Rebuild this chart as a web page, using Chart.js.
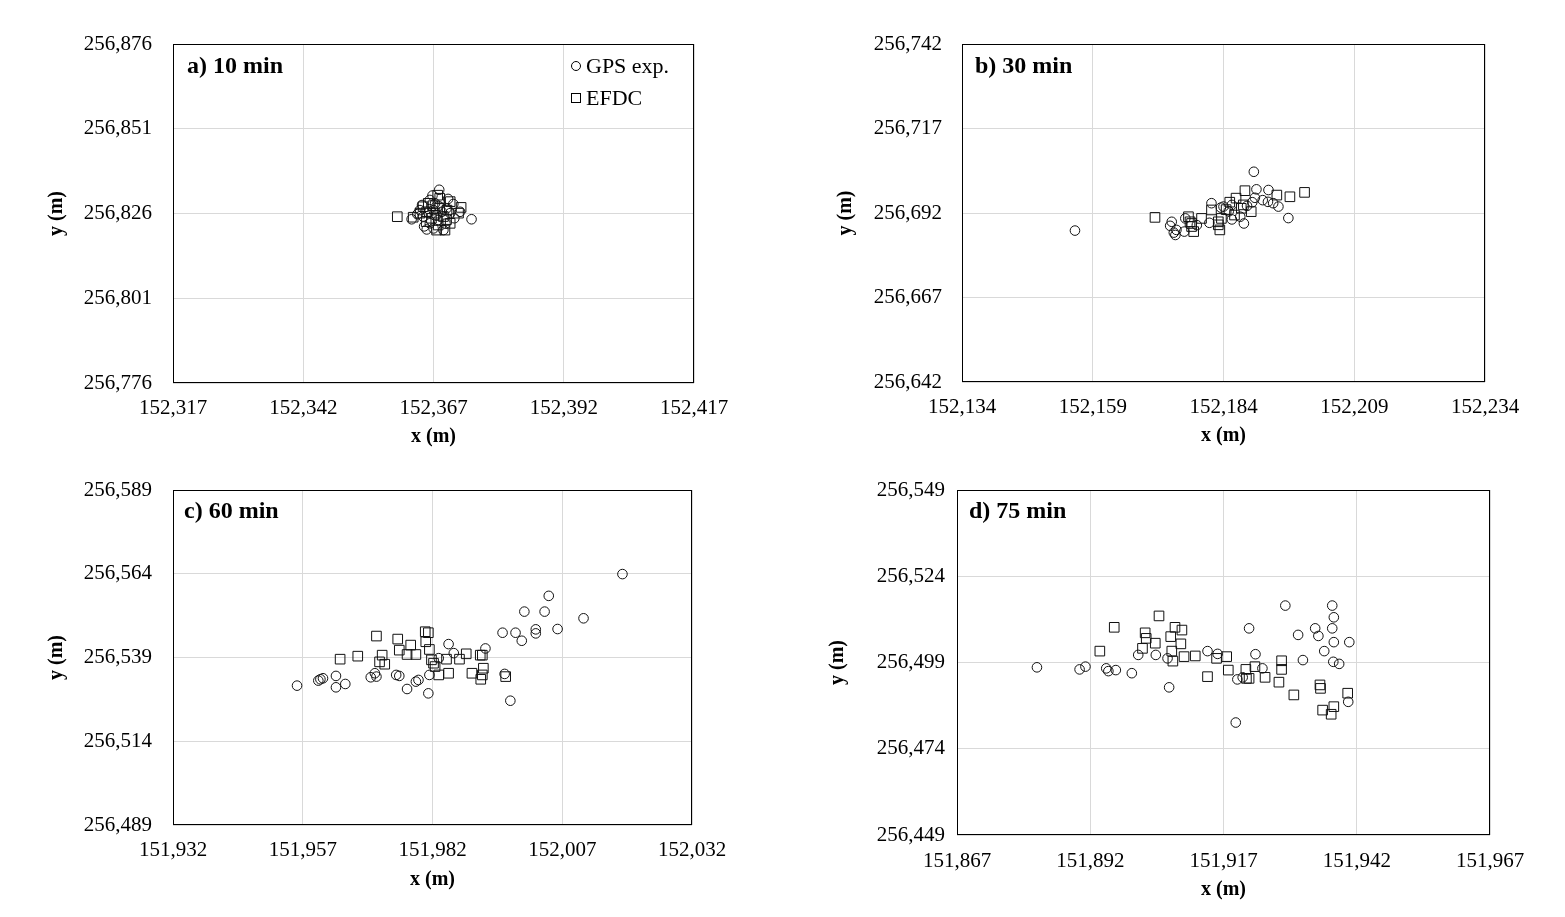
<!DOCTYPE html>
<html>
<head>
<meta charset="utf-8">
<script src="https://cdn.jsdelivr.net/npm/chart.js@4/dist/chart.umd.min.js"></script>
<style>
  html, body { margin: 0; padding: 0; background: #fff; }
  body { width: 1565px; height: 917px; position: relative; overflow: hidden; }
  canvas { position: absolute; display: block; }
</style>
</head>
<body>
<canvas id="ca"></canvas>
<canvas id="cb"></canvas>
<canvas id="cc"></canvas>
<canvas id="cd"></canvas>
<script>
// ---------------- DATA ----------------
const seriesNames = ['GPS exp.', 'EFDC'];

// a) 10 min
const aTicksX = [152317, 152342, 152367, 152392, 152417];
const aTicksY = [256776, 256801, 256826, 256851, 256876];
const aGpsX = [152362.8, 152368.1, 152374.3, 152365.7, 152368.9, 152367.0, 152372.1, 152364.4, 152366.3, 152367.3, 152369.5, 152370.2, 152365.0, 152366.3, 152367.9, 152367.0, 152368.6, 152363.9, 152366.8, 152369.8, 152371.0, 152365.2, 152368.0, 152366.0, 152369.3, 152367.6, 152364.8, 152370.8];
const aGpsY = [256824.3, 256833.0, 256824.3, 256821.3, 256821.1, 256821.6, 256826.5, 256827.0, 256830.0, 256829.0, 256827.5, 256826.1, 256825.1, 256823.1, 256824.1, 256827.0, 256826.5, 256825.8, 256831.3, 256830.3, 256824.6, 256822.2, 256828.2, 256826.2, 256823.0, 256825.5, 256828.5, 256828.8];
const aEfdcX = [152360.05, 152363.1, 152372.3, 152370.2, 152368.2, 152367.6, 152369.2, 152371.8, 152369.5, 152365.0, 152366.0, 152364.4, 152365.7, 152367.3, 152368.2, 152366.6, 152368.9, 152370.2, 152367.9, 152366.9, 152369.6, 152365.6, 152367.8];
const aEfdcY = [256825.06, 256824.9, 256827.8, 256829.5, 256830.5, 256821.1, 256821.1, 256826.1, 256824.2, 256828.0, 256829.0, 256826.1, 256826.5, 256826.1, 256827.5, 256824.6, 256825.1, 256823.1, 256822.6, 256828.3, 256827.0, 256823.6, 256831.4];

// b) 30 min
const bTicksX = [152134, 152159, 152184, 152209, 152234];
const bTicksY = [256642, 256667, 256692, 256717, 256742];
const bGpsX = [152155.6, 152174.1, 152173.8, 152175.0, 152174.8, 152174.5, 152176.5, 152178.9, 152176.7, 152181.7, 152181.3, 152185.6, 152187.9, 152187.2, 152189.8, 152190.3, 152192.6, 152191.5, 152192.5, 152193.5, 152194.5, 152196.4, 152184.0, 152185.0, 152183.5, 152185.6, 152188.5, 152189.5, 152190.0];
const bGpsY = [256686.8, 256689.4, 256688.2, 256687.0, 256685.5, 256686.2, 256686.5, 256688.4, 256690.4, 256694.9, 256689.1, 256690.1, 256688.9, 256690.9, 256704.2, 256699.0, 256698.8, 256695.8, 256695.3, 256694.9, 256693.9, 256690.5, 256693.9, 256692.5, 256693.6, 256694.4, 256694.1, 256695.2, 256696.5];
const bEfdcX = [152170.9, 152177.3, 152177.6, 152177.9, 152178.3, 152177.9, 152179.8, 152183.0, 152183.3, 152183.0, 152186.4, 152188.1, 152187.8, 152189.3, 152194.2, 152196.7, 152199.5, 152187.4, 152186.1, 152181.7, 152184.5, 152185.2, 152183.6];
const bEfdcY = [256690.7, 256690.9, 256689.4, 256688.0, 256686.5, 256688.9, 256690.4, 256689.4, 256687.0, 256688.5, 256696.4, 256698.6, 256694.4, 256692.4, 256697.3, 256696.8, 256698.1, 256693.4, 256691.4, 256692.9, 256693.0, 256695.2, 256690.4];

// c) 60 min
const cTicksX = [151932, 151957, 151982, 152007, 152032];
const cTicksY = [256489, 256514, 256539, 256564, 256589];
const cGpsX = [152018.6, 152004.4, 151999.7, 152003.6, 152011.1, 152006.1, 152001.9, 152001.9, 151995.5, 151998.0, 151999.2, 151992.2, 151985.1, 151986.1, 151995.9, 151997.0, 151981.2, 151981.4, 151977.1, 151978.8, 151979.3, 151975.0, 151975.6, 151970.1, 151970.9, 151971.2, 151963.4, 151963.4, 151965.2, 151960.0, 151960.4, 151960.9, 151955.9, 151983.2];
const cGpsY = [256563.9, 256557.4, 256552.7, 256552.7, 256550.7, 256547.5, 256547.4, 256546.2, 256546.4, 256546.4, 256544.0, 256541.7, 256543.0, 256540.3, 256534.1, 256526.1, 256528.3, 256533.8, 256529.6, 256531.8, 256532.3, 256533.8, 256533.5, 256533.1, 256534.3, 256533.3, 256533.5, 256530.1, 256531.1, 256532.1, 256532.5, 256532.8, 256530.6, 256538.8];
const cEfdcX = [151964.2, 151967.6, 151971.2, 151975.3, 151975.6, 151977.8, 151977.1, 151978.8, 151972.3, 151971.8, 151972.8, 151980.6, 151981.2, 151980.7, 151981.4, 151981.8, 151982.2, 151982.5, 151983.2, 151985.1, 151984.7, 151987.2, 151988.5, 151989.6, 151991.3, 151991.8, 151991.6, 151991.2, 151991.6, 151996.1];
const cEfdcY = [256538.5, 256539.4, 256545.4, 256544.5, 256541.2, 256542.7, 256539.9, 256539.9, 256539.7, 256537.7, 256537.0, 256546.7, 256546.4, 256543.7, 256541.4, 256538.3, 256537.3, 256536.3, 256533.8, 256534.3, 256538.5, 256538.5, 256540.1, 256534.3, 256532.5, 256535.8, 256533.8, 256539.7, 256539.7, 256533.3];

// d) 75 min
const dTicksX = [151867, 151892, 151917, 151942, 151967];
const dTicksY = [256449, 256474, 256499, 256524, 256549];
const dGpsX = [151882.0, 151890.0, 151891.1, 151895.0, 151895.4, 151896.8, 151899.8, 151901.0, 151904.3, 151906.5, 151906.8, 151914.0, 151915.9, 151919.3, 151919.6, 151920.6, 151921.8, 151923.0, 151924.3, 151928.6, 151931.0, 151931.9, 151934.2, 151934.8, 151935.9, 151937.4, 151937.7, 151937.4, 151937.7, 151937.6, 151938.7, 151940.6, 151940.4];
const dGpsY = [256497.6, 256497.0, 256497.8, 256497.3, 256496.5, 256496.8, 256495.9, 256501.2, 256501.2, 256500.2, 256491.8, 256502.3, 256501.5, 256481.6, 256494.1, 256494.7, 256508.9, 256501.4, 256497.3, 256515.5, 256507.0, 256499.7, 256508.9, 256506.7, 256502.3, 256515.5, 256512.1, 256508.9, 256504.9, 256499.2, 256498.6, 256504.9, 256487.6];
const dEfdcX = [151893.8, 151896.5, 151904.9, 151902.3, 151902.5, 151901.8, 151904.2, 151907.9, 151909.2, 151907.1, 151909.0, 151907.3, 151907.5, 151909.6, 151911.7, 151914.0, 151915.7, 151917.6, 151917.9, 151921.2, 151921.3, 151921.8, 151922.9, 151924.8, 151927.9, 151927.9, 151927.4, 151930.2, 151935.1, 151935.2, 151935.6, 151937.7, 151937.2, 151940.3];
const dEfdcY = [256502.3, 256509.2, 256512.5, 256507.6, 256506.0, 256503.1, 256504.6, 256509.2, 256508.4, 256506.5, 256504.4, 256502.3, 256499.4, 256500.7, 256500.9, 256494.9, 256500.2, 256500.7, 256496.8, 256497.0, 256494.4, 256494.4, 256497.8, 256494.7, 256499.5, 256497.0, 256493.3, 256489.6, 256492.5, 256491.5, 256485.2, 256486.2, 256484.0, 256490.1];

// ---------------- RENDERING ----------------
const SERIF = '"Liberation Serif", "Times New Roman", serif';
const TICK_FONT = 21, TITLE_FONT = 20;

const pts = (xs, ys) => xs.map((x, i) => ({ x: x, y: ys[i] }));
const fmt = v => Number(v).toLocaleString('en-US');

const panelPlugin = {
  id: 'panelText',
  afterDraw(chart, args, o) {
    const ctx = chart.ctx, a = chart.chartArea;
    ctx.save();
    ctx.strokeStyle = '#000';
    ctx.lineWidth = 1;
    ctx.strokeRect(Math.round(a.left) + 0.5, Math.round(a.top) + 0.5,
                   Math.round(a.right - a.left) - 1, Math.round(a.bottom - a.top) - 1);
    ctx.fillStyle = '#000';
    ctx.textBaseline = 'middle';
    ctx.textAlign = 'left';
    ctx.font = 'bold 24px ' + SERIF;
    ctx.fillText(o.label, a.left + o.dx, a.top + o.dy);
    if (o.legend) {
      ctx.font = '22px ' + SERIF;
      const lx = a.left + o.legX, ly = a.top + o.legY;
      // circle marker
      ctx.beginPath();
      ctx.arc(lx, ly, 4.5, 0, Math.PI * 2);
      ctx.stroke();
      ctx.fillText(seriesNames[0], lx + 10, ly + 1);
      // square marker
      ctx.strokeRect(lx - 4.5, ly + 32 - 4.5, 9, 9);
      ctx.fillText(seriesNames[1], lx + 10, ly + 33);
    }
    ctx.restore();
  }
};

function makePanel(id, p) {
  const cv = document.getElementById(id);
  cv.width = p.W; cv.height = p.H;
  cv.style.left = p.L + 'px'; cv.style.top = p.T + 'px';
  const tickLH = TICK_FONT * 1.2, titleLH = TITLE_FONT * 1.2;
  const axisCommon = {
    type: 'linear',
    border: { display: false },
    grid: { color: '#d9d9d9', lineWidth: 1, drawTicks: false },
  };
  new Chart(cv, {
    type: 'scatter',
    data: {
      datasets: [
        { label: seriesNames[0], data: pts(p.gx, p.gy), pointStyle: 'circle', pointRadius: 4.8,
          pointHoverRadius: 4.8, borderColor: '#111', backgroundColor: 'rgba(0,0,0,0)', borderWidth: 1 },
        { label: seriesNames[1], data: pts(p.ex, p.ey), pointStyle: 'rect', pointRadius: 6.8,
          pointHoverRadius: 6.8, borderColor: '#111', backgroundColor: 'rgba(0,0,0,0)', borderWidth: 1 }
      ]
    },
    options: {
      responsive: false,
      animation: false,
      events: [],
      layout: { padding: { left: 0, top: p.ct - p.T, right: p.L + p.W - p.cr, bottom: 0 } },
      plugins: {
        legend: { display: false },
        tooltip: { enabled: false },
        panelText: { label: p.label, dx: p.dx, dy: p.dy, legend: !!p.legend, legX: p.legX, legY: p.legY }
      },
      scales: {
        x: Object.assign({}, axisCommon, {
          position: 'bottom',
          min: p.tx[0], max: p.tx[p.tx.length - 1],
          afterBuildTicks: s => { s.ticks = p.tx.map(v => ({ value: v })); },
          afterFit: s => { s.height = p.T + p.H - p.cb; },
          ticks: { color: '#000', font: { family: SERIF, size: TICK_FONT }, padding: p.xLab - p.cb - tickLH / 2,
                   maxRotation: 0, autoSkip: false, callback: v => fmt(v) },
          title: { display: true, text: 'x (m)', color: '#000',
                   font: { family: SERIF, size: TITLE_FONT, weight: 'bold' },
                   padding: { top: 0, bottom: p.T + p.H - p.xTitle - titleLH / 2 } }
        }),
        y: Object.assign({}, axisCommon, {
          position: 'left',
          min: p.ty[0], max: p.ty[p.ty.length - 1],
          afterBuildTicks: s => { s.ticks = p.ty.map(v => ({ value: v })); },
          afterFit: s => { s.width = p.cl - p.L; },
          ticks: { color: '#000', font: { family: SERIF, size: TICK_FONT }, padding: p.cl - p.yLab,
                   autoSkip: false, callback: v => fmt(v) },
          title: { display: true, text: 'y (m)', color: '#000',
                   font: { family: SERIF, size: TITLE_FONT, weight: 'bold' },
                   padding: { top: p.yTitle - p.L - titleLH / 2, bottom: 0 } }
        })
      }
    },
    plugins: [panelPlugin]
  });
}

makePanel('ca', { L: 0, T: 0, W: 760, H: 455, cl: 173, ct: 44, cr: 694, cb: 383,
  yLab: 152, xLab: 408, xTitle: 437, yTitle: 57,
  tx: aTicksX, ty: aTicksY, gx: aGpsX, gy: aGpsY, ex: aEfdcX, ey: aEfdcY,
  label: 'a) 10 min', dx: 14, dy: 23, legend: true, legX: 403, legY: 22 });

makePanel('cb', { L: 785, T: 0, W: 780, H: 455, cl: 962, ct: 44, cr: 1485, cb: 382,
  yLab: 942, xLab: 407, xTitle: 436, yTitle: 846,
  tx: bTicksX, ty: bTicksY, gx: bGpsX, gy: bGpsY, ex: bEfdcX, ey: bEfdcY,
  label: 'b) 30 min', dx: 13, dy: 23 });

makePanel('cc', { L: 0, T: 455, W: 760, H: 462, cl: 173, ct: 490, cr: 692, cb: 825,
  yLab: 152, xLab: 850, xTitle: 880, yTitle: 57,
  tx: cTicksX, ty: cTicksY, gx: cGpsX, gy: cGpsY, ex: cEfdcX, ey: cEfdcY,
  label: 'c) 60 min', dx: 11, dy: 22 });

makePanel('cd', { L: 785, T: 455, W: 780, H: 462, cl: 957, ct: 490, cr: 1490, cb: 835,
  yLab: 945, xLab: 861, xTitle: 890, yTitle: 838,
  tx: dTicksX, ty: dTicksY, gx: dGpsX, gy: dGpsY, ex: dEfdcX, ey: dEfdcY,
  label: 'd) 75 min', dx: 12, dy: 22 });
</script>
</body>
</html>
